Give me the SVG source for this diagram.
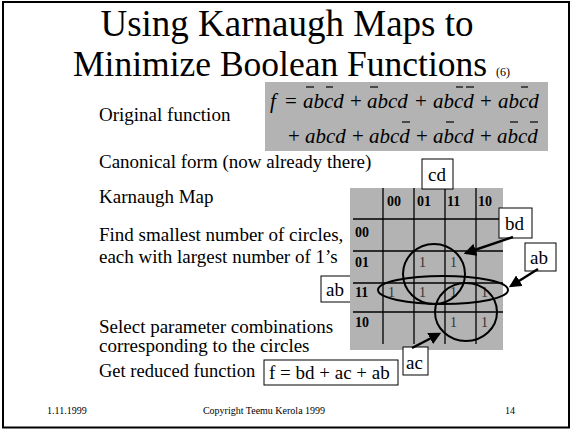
<svg xmlns="http://www.w3.org/2000/svg" width="573" height="430" viewBox="0 0 573 430">
  <style>
    .serif { font-family: "Liberation Serif", "Times New Roman", serif; fill: #000; }
    .title { font-size: 37px; }
    .title2 { font-size: 35.5px; }
    .body { font-size: 19px; }
    .eq { font-size: 21px; font-style: italic; }
    .op { font-style: normal; }
    .hdr { font-size: 14px; font-weight: bold; }
    .one { font-size: 14px; fill: #333; }
    .foot { font-size: 10px; }
    .box { fill: #fff; stroke: #000; stroke-width: 1; }
    .grid { stroke: #000; stroke-width: 1.3; }
    .ring { fill: none; stroke: #000; stroke-width: 2; }
    .bar { stroke: #000; stroke-width: 1.2; }
    .arrow { stroke: #000; stroke-width: 2.5; marker-end: url(#head); }
  </style>
  <defs>
    <marker id="head" markerWidth="5" markerHeight="5" refX="4" refY="2.5" orient="auto" markerUnits="strokeWidth">
      <path d="M0,0 L5,2.5 L0,5 Z" fill="#000"/>
    </marker>
  </defs>

  <rect x="0" y="0" width="573" height="430" fill="#fff"/>
  <rect x="3" y="2" width="566" height="425.5" fill="none" stroke="#000" stroke-width="2"/>

  <!-- title -->
  <g id="title">
    <text class="serif title" x="287" y="36" text-anchor="middle">Using Karnaugh Maps to</text>
    <text class="serif title2" x="73" y="76">Minimize Boolean Functions <tspan style="font-size:12px">(6)</tspan></text>
  </g>

  <!-- step descriptions -->
  <g id="steps" class="serif body">
    <text x="99" y="121">Original function</text>
    <text x="99" y="168">Canonical form (now already there)</text>
    <text x="99" y="203">Karnaugh Map</text>
    <text x="99" y="241">Find smallest number of circles,</text>
    <text x="99" y="263">each with largest number of 1’s</text>
    <text x="99" y="333">Select parameter combinations</text>
    <text x="99" y="352">corresponding to the circles</text>
    <text x="99" y="377" style="font-size:18.5px">Get reduced function</text>
  </g>

  <!-- original function -->
  <g id="equation">
    <rect x="265" y="82" width="283" height="69" fill="#b3b3b3"/>
    <g class="serif eq">
      <text x="270" y="108">f</text>
      <text class="op" x="285" y="108">=</text>
      <text x="303" y="108">abcd</text>
      <text class="op" x="350" y="108">+</text>
      <text x="367" y="108">abcd</text>
      <text class="op" x="415" y="108">+</text>
      <text x="433" y="108">abcd</text>
      <text class="op" x="480" y="108">+</text>
      <text x="498" y="108">abcd</text>

      <text class="op" x="288" y="143">+</text>
      <text x="305" y="143">abcd</text>
      <text class="op" x="352" y="143">+</text>
      <text x="369" y="143">abcd</text>
      <text class="op" x="416" y="143">+</text>
      <text x="433" y="143">abcd</text>
      <text class="op" x="480" y="143">+</text>
      <text x="497" y="143">abcd</text>
    </g>
    <!-- complement bars -->
    <g class="bar">
      <line x1="306" y1="87" x2="314" y2="87"/>
      <line x1="326" y1="87" x2="333" y2="87"/>
      <line x1="370" y1="87" x2="378" y2="87"/>
      <line x1="456" y1="87" x2="463" y2="87"/>
      <line x1="466" y1="87" x2="474" y2="87"/>
      <line x1="521" y1="87" x2="528" y2="87"/>

      <line x1="402" y1="122" x2="410" y2="122"/>
      <line x1="446" y1="122" x2="454" y2="122"/>
      <line x1="510" y1="122" x2="518" y2="122"/>
      <line x1="530" y1="122" x2="538" y2="122"/>
    </g>
  </g>

  <!-- row-side label behind the map -->
  <g id="label-ab-left">
    <rect class="box" x="321" y="276" width="32" height="26"/>
    <text class="serif body" x="326" y="296">ab</text>
  </g>

  <!-- Karnaugh map -->
  <g id="kmap">
    <rect x="350" y="188" width="153" height="162" fill="#b3b3b3"/>
    <g class="grid">
      <line x1="383" y1="188" x2="383" y2="344"/>
      <line x1="414" y1="188" x2="414" y2="344"/>
      <line x1="445" y1="188" x2="445" y2="344"/>
      <line x1="476" y1="188" x2="476" y2="344"/>
      <line x1="353" y1="219" x2="503" y2="219"/>
      <line x1="353" y1="251" x2="503" y2="251"/>
      <line x1="353" y1="283" x2="503" y2="283"/>
      <line x1="353" y1="312" x2="503" y2="312"/>
    </g>
    <g class="serif hdr">
      <text x="387" y="206">00</text>
      <text x="417" y="206">01</text>
      <text x="447" y="206">11</text>
      <text x="478" y="206">10</text>
      <text x="355" y="237">00</text>
      <text x="355" y="267">01</text>
      <text x="355" y="297">11</text>
      <text x="355" y="327">10</text>
    </g>
    <g class="serif one">
      <text x="419" y="267">1</text>
      <text x="450" y="267">1</text>
      <text x="388" y="297">1</text>
      <text x="419" y="297">1</text>
      <text x="450" y="297">1</text>
      <text x="481" y="297">1</text>
      <text x="450" y="327">1</text>
      <text x="481" y="327">1</text>
    </g>
  </g>

  <!-- groupings -->
  <g id="circles">
    <ellipse class="ring" cx="434" cy="274" rx="31" ry="30"/>
    <ellipse class="ring" cx="443" cy="290" rx="65" ry="14"/>
    <ellipse class="ring" cx="466" cy="312" rx="31" ry="29"/>
  </g>

  <g id="label-cd">
    <rect class="box" x="422" y="159" width="31" height="30"/>
    <text class="serif body" x="428" y="181">cd</text>
  </g>
  <g id="label-bd">
    <rect class="box" x="499" y="208" width="33" height="30"/>
    <text class="serif body" x="505" y="230">bd</text>
  </g>
  <g id="label-ab-right">
    <rect class="box" x="525" y="243" width="31" height="28"/>
    <text class="serif body" x="530" y="264">ab</text>
  </g>
  <g id="label-ac">
    <rect class="box" x="403" y="347" width="25" height="28"/>
    <text class="serif body" x="406" y="369">ac</text>
  </g>
  <g id="result">
    <rect class="box" x="264" y="360" width="134" height="25"/>
    <text class="serif body" x="269" y="379">f = bd + ac + ab</text>
  </g>

  <!-- pointers -->
  <g id="connectors">
    <line class="arrow" x1="513" y1="237" x2="466" y2="253"/>
    <line class="arrow" x1="538" y1="269" x2="511" y2="286"/>
    <line class="arrow" x1="412" y1="348" x2="439" y2="334"/>
  </g>

  <!-- footer -->
  <g id="footer" class="serif foot">
    <text x="47" y="414">1.11.1999</text>
    <text x="264" y="414" text-anchor="middle">Copyright Teemu Kerola 1999</text>
    <text x="505" y="414">14</text>
  </g>
</svg>
